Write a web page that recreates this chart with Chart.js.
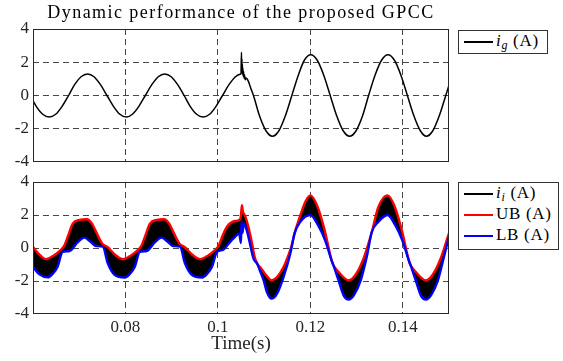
<!DOCTYPE html>
<html><head><meta charset="utf-8">
<script src="https://cdn.jsdelivr.net/npm/chart.js@4/dist/chart.umd.min.js"></script>
<style>
html,body{margin:0;padding:0;background:#fff;}
body{width:563px;height:361px;position:relative;overflow:hidden;font-family:"Liberation Serif","Times New Roman",Times,"DejaVu Serif",serif;color:#000;}
canvas{position:absolute;left:0;}
#c1{top:0;}
#c2{top:170px;}
.title{position:absolute;left:0;width:482px;top:2px;line-height:20px;text-align:center;font-size:18px;letter-spacing:1.45px;white-space:nowrap;}
.xlabel{position:absolute;left:33px;width:416px;top:332px;line-height:22px;text-align:center;font-size:19px;color:#262626;}
.lg{position:absolute;border:1px solid #333;background:#fff;box-sizing:border-box;}
.ln{position:absolute;height:2px;width:29px;}
.lt{position:absolute;font-size:17px;line-height:20px;white-space:nowrap;letter-spacing:0.7px;}
.lt i{font-style:italic;}
.lt sub{font-size:12px;font-style:italic;vertical-align:-3px;line-height:0;}
</style>
</head><body>
<canvas id="c1" width="455" height="170"></canvas>
<canvas id="c2" width="455" height="191"></canvas>
<div class="title">Dynamic performance of the proposed GPCC</div>
<div class="xlabel">Time(s)</div>

<div class="lg" style="left:458px;top:30px;width:90px;height:24px;"></div>
<div class="ln" style="left:464px;top:40.5px;background:#000;"></div>
<div class="lt" style="left:496px;top:31px;"><i>i</i><sub>g</sub> (A)</div>

<div class="lg" style="left:458px;top:182px;width:101px;height:68px;"></div>
<div class="ln" style="left:464px;top:193px;background:#000;"></div>
<div class="lt" style="left:496px;top:183px;"><i>i</i><sub>i</sub> (A)</div>
<div class="ln" style="left:464px;top:214px;background:#ff0000;"></div>
<div class="lt" style="left:496px;top:204px;">UB (A)</div>
<div class="ln" style="left:464px;top:235px;background:#0000ff;"></div>
<div class="lt" style="left:496px;top:225px;">LB (A)</div>

<script>
// ---- data ----
const xTicks = [0.08, 0.10, 0.12, 0.14];
const xTickLabels = ['0.08', '0.1', '0.12', '0.14'];
const yTicks = [-4, -2, 0, 2, 4];
const yTickLabels = ['-4', '-2', '0', '2', '4'];

// grid current i_g (A)
const tG = [0.0600,0.0607,0.0621,0.0635,0.0649,0.0663,0.0677,0.0690,0.0704,0.0718,0.0732,0.0746,0.0760,0.0774,0.0788,
0.0802,0.0815,0.0829,0.0843,0.0857,0.0871,0.0885,0.0899,0.0913,0.0927,0.0940,0.0954,0.0968,0.0982,0.0996,0.1010,0.1024,0.1038,
0.1048,0.1050,0.1051,0.10515,0.1052,0.10525,0.1053,0.10535,0.1054,0.10548,0.10556,0.10565,0.10575,0.1059,0.1061,0.1066,0.1071,0.1077,
0.1090,0.1104,0.1118,0.1132,0.1146,0.1160,0.1174,0.1187,0.1201,0.1215,0.1229,0.1243,0.1257,0.1271,0.1285,0.1299,0.1313,0.1326,
0.1340,0.1354,0.1368,0.1382,0.1396,0.1410,0.1424,0.1438,0.1451,0.1465,0.1479,0.1493,0.1500];
const iG = [-0.32,-0.65,-1.13,-1.30,-1.13,-0.65,0.00,0.65,1.13,1.30,1.13,0.65,0.00,-0.65,-1.13,
-1.30,-1.13,-0.65,0.00,0.65,1.13,1.30,1.13,0.65,0.00,-0.65,-1.13,-1.30,-1.13,-0.65,0.00,0.65,1.13,
1.28,1.33,2.60,1.50,2.20,1.35,1.90,1.25,1.65,1.15,1.45,1.05,1.25,0.95,1.05,0.85,0.45,0.00,
-1.22,-2.12,-2.45,-2.12,-1.22,0.00,1.22,2.12,2.45,2.12,1.22,0.00,-1.22,-2.12,-2.45,-2.12,-1.22,0.00,
1.22,2.12,2.45,2.12,1.22,0.00,-1.22,-2.12,-2.45,-2.12,-1.22,0.00,0.62];

// upper bound UB (A)
const tUB = [0.0600,0.0614,0.0628,0.0645,0.0659,0.0668,0.0675,0.0686,0.0701,0.0716,0.0727,0.0735,0.0743,0.0750,0.0761,0.0779,0.0795,
0.0812,0.0826,0.0835,0.0842,0.0853,0.0868,0.0883,0.0894,0.0902,0.0910,0.0917,0.0928,0.0946,0.0962,
0.0979,0.0993,0.1002,0.1009,0.1020,0.1035,0.1048,0.1050,0.1052,0.1054,0.1057,0.1060,0.1067,0.1074,0.1080,0.1085,0.1094,0.1103,0.1116,0.1128,0.1142,0.1153,0.1160,0.1166,0.1182,0.1190,0.1200,
0.1215,0.1231,0.1246,0.1250,0.1261,0.1283,0.1297,0.1315,0.1333,0.1347,0.1367,0.1382,0.1398,0.1413,0.1417,0.1428,0.1450,0.1464,0.1482,0.1500];
const ub = [0.06,-0.40,-0.68,-0.45,-0.14,0.16,0.67,1.48,1.70,1.74,1.50,1.07,0.60,0.26,0.06,-0.44,-0.68,
-0.45,-0.14,0.16,0.67,1.48,1.70,1.74,1.50,1.07,0.60,0.26,0.06,-0.44,-0.68,
-0.45,-0.14,0.16,0.67,1.30,1.62,1.74,2.00,2.59,2.20,2.05,1.85,1.17,0.26,-0.60,-0.95,-1.25,-1.60,-1.96,-1.76,-1.15,-0.40,0.20,0.90,2.28,2.85,3.19,
2.55,1.07,-0.75,-1.05,-1.45,-1.96,-1.65,-0.64,0.97,2.48,3.19,2.55,1.07,-0.75,-1.05,-1.45,-1.96,-1.65,-0.64,0.90];

// lower bound LB (A)
const tLB = [0.0600,0.0614,0.0632,0.0643,0.0653,0.0664,0.0679,0.0697,0.0711,0.0725,0.0736,0.0751,0.0762,0.0776,0.0799,
0.0810,0.0820,0.0831,0.0846,0.0864,0.0878,0.0892,0.0903,0.0918,0.0929,0.0943,0.0966,
0.0977,0.0987,0.0998,0.1012,0.1023,0.1037,0.1046,0.1050,0.1051,0.1053,0.1056,0.1061,0.1067,0.1077,0.1085,0.1090,0.1099,0.1106,0.1116,0.1128,0.1142,0.1157,0.1166,0.1178,0.1200,
0.1217,0.1232,0.1246,0.1250,0.1261,0.1272,0.1283,0.1294,0.1309,0.1322,0.1333,0.1347,0.1367,0.1384,0.1399,0.1413,0.1417,0.1428,0.1439,0.1450,0.1461,0.1476,0.1489,0.1500];
const lb = [-1.15,-1.60,-1.78,-1.55,-1.15,-0.24,-0.18,0.36,0.63,0.36,0.12,0.08,-0.95,-1.61,-1.79,
-1.55,-1.15,-0.24,-0.18,0.36,0.63,0.36,0.12,0.08,-0.95,-1.61,-1.79,
-1.55,-1.15,-0.24,-0.10,0.26,0.67,0.87,0.30,1.60,0.90,1.48,1.20,0.57,-0.64,-0.95,-1.30,-1.96,-2.67,-3.07,-2.76,-1.76,-0.30,0.90,1.58,2.00,
1.37,0.47,-0.75,-1.05,-1.96,-2.87,-3.13,-2.87,-1.96,-0.55,0.97,1.58,2.00,1.37,0.47,-0.75,-1.05,-1.96,-2.87,-3.13,-2.87,-1.96,-0.55,0.70];

// ---- chart building ----
const xy = (ts, vs) => ts.map((t, i) => ({x: t, y: vs[i]}));
const FONT = {family: "'Liberation Serif', 'Times New Roman', Times, 'DejaVu Serif', serif", size: 17};
const TXT = '#262626';
const GRID = 'rgba(38,38,38,0.85)';

const frame = {
  id: 'frame',
  afterDatasetsDraw(chart) {
    const {ctx, chartArea: a} = chart;
    ctx.save();
    ctx.setLineDash([]);
    ctx.strokeStyle = '#262626';
    ctx.lineWidth = 1;
    ctx.strokeRect(Math.round(a.left) + 0.5, Math.round(a.top) + 0.5,
      Math.round(a.right - a.left) - 1, Math.round(a.bottom - a.top) - 1);
    ctx.restore();
  }
};

function scales(showX, xHeight) {
  return {
    x: {
      type: 'linear', min: 0.06, max: 0.15,
      afterBuildTicks: s => { s.ticks = xTicks.map(v => ({value: v})); },
      afterFit: s => { s.height = xHeight; s.paddingLeft = 0; s.paddingRight = 0; },
      ticks: {display: showX, font: FONT, color: TXT, padding: 3, maxRotation: 0,
        callback: v => xTickLabels[xTicks.findIndex(t => Math.abs(t - v) < 1e-9)]},
      grid: {color: GRID, lineWidth: 1, drawTicks: false},
      border: {display: false, dash: [6, 4]}
    },
    y: {
      min: -4, max: 4,
      afterBuildTicks: s => { s.ticks = yTicks.map(v => ({value: v})); },
      afterFit: s => { s.width = 33; s.paddingTop = 0; s.paddingBottom = 0; },
      ticks: {font: FONT, color: TXT, padding: 4,
        callback: v => yTickLabels[yTicks.indexOf(v)]},
      grid: {color: c => (c.tick && Math.abs(c.tick.value) === 4) ? 'rgba(0,0,0,0)' : GRID,
        lineWidth: 1, drawTicks: false},
      border: {display: false, dash: [6, 4]}
    }
  };
}

const common = {
  responsive: false, animation: false, events: [],
  plugins: {legend: {display: false}, tooltip: {enabled: false}, title: {display: false}},
  elements: {point: {radius: 0}, line: {cubicInterpolationMode: 'monotone'}}
};

new Chart(document.getElementById('c1'), {
  type: 'line',
  data: {datasets: [
    {label: 'i_g (A)', data: xy(tG, iG), borderColor: '#000', borderWidth: 1.5, fill: false}
  ]},
  options: Object.assign({}, common, {
    layout: {padding: {top: 29, right: 6, left: 0, bottom: 0}},
    scales: scales(false, 8)
  }),
  plugins: [frame]
});

new Chart(document.getElementById('c2'), {
  type: 'line',
  data: {datasets: [
    {label: 'i_i (A)', data: xy(tUB, ub), borderColor: '#000', backgroundColor: '#000',
      borderWidth: 1, fill: 2, order: 2},
    {label: 'UB (A)', data: xy(tUB, ub), borderColor: '#ff0000', borderWidth: 2.4, fill: false, order: 1},
    {label: 'LB (A)', data: xy(tLB, lb), borderColor: '#0000ff', borderWidth: 2.4, fill: false, order: 0}
  ]},
  options: Object.assign({}, common, {
    layout: {padding: {top: 12, right: 6, left: 0, bottom: 0}},
    scales: scales(true, 47)
  }),
  plugins: [frame]
});
</script>
</body></html>
